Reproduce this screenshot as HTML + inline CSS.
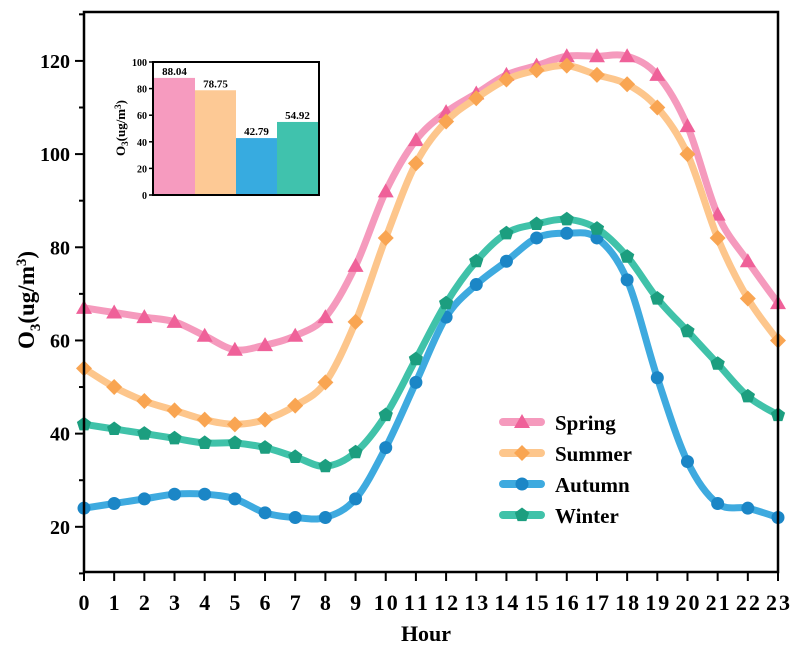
<!DOCTYPE html>
<html><head><meta charset="utf-8"><style>
body{margin:0;background:#fff}
svg{display:block;font-family:"Liberation Serif",serif;font-weight:bold}
</style></head><body>
<svg id="c" width="794" height="650"></svg>
<script>
const hours=[0,1,2,3,4,5,6,7,8,9,10,11,12,13,14,15,16,17,18,19,20,21,22,23];
const spring=[67,66,65,64,61,58,59,61,65,76,92,103,109,113,117,119,121,121,121,117,106,87,77,68];
const summer=[54,50,47,45,43,42,43,46,51,64,82,98,107,112,116,118,119,117,115,110,100,82,69,60];
const autumn=[24,25,26,27,27,26,23,22,22,26,37,51,65,72,77,82,83,82,73,52,34,25,24,22];
const winter=[42,41,40,39,38,38,37,35,33,36,44,56,68,77,83,85,86,84,78,69,62,55,48,44];
const yTicks=[20,40,60,80,100,120];
const seasons=["Spring","Summer","Autumn","Winter"];
const means=[88.04,78.75,42.79,54.92];
const insetTicks=[0,20,40,60,80,100];

const NS="http://www.w3.org/2000/svg";
const svg=document.getElementById('c');
function el(t,a,p){const e=document.createElementNS(NS,t);for(const k in a)e.setAttribute(k,a[k]);(p||svg).appendChild(e);return e;}
const X0=84,X1=778,YT=12,YB=572,VMIN=10.3,VMAX=130.5;
const xs=h=>X0+(X1-X0)*h/23;
const ys=v=>YB-(YB-YT)*(v-VMIN)/(VMAX-VMIN);

const styles=[
 {data:spring,line:"#f59abd",mk:"#ef6199",shape:"tri"},
 {data:summer,line:"#fdc68c",mk:"#f9a552",shape:"dia"},
 {data:autumn,line:"#3eaadf",mk:"#1b86c6",shape:"cir"},
 {data:winter,line:"#40c2a9",mk:"#1c9e7f",shape:"pent"}];

function marker(shape,x,y,c,g){
 let m;
 if(shape==="tri")m=el('polygon',{points:`${x},${y-8} ${x-8},${y+6} ${x+8},${y+6}`,fill:c},g);
 else if(shape==="dia")m=el('polygon',{points:`${x},${y-8} ${x+8},${y} ${x},${y+8} ${x-8},${y}`,fill:c},g);
 else if(shape==="cir")m=el('circle',{cx:x,cy:y,r:6.5,fill:c},g);
 else{let p=[];for(let i=0;i<5;i++){const a=-Math.PI/2+i*2*Math.PI/5;p.push((x+7.5*Math.cos(a)).toFixed(1)+","+(y+7.5*Math.sin(a)).toFixed(1));}m=el('polygon',{points:p.join(" "),fill:c},g);}
 return m;
}
function spline(pts){
 let d=`M${pts[0][0]},${pts[0][1]}`;
 for(let i=0;i<pts.length-1;i++){
  const p0=pts[Math.max(0,i-1)],p1=pts[i],p2=pts[i+1],p3=pts[Math.min(pts.length-1,i+2)];
  const c1=[p1[0]+(p2[0]-p0[0])/6,p1[1]+(p2[1]-p0[1])/6];
  const c2=[p2[0]-(p3[0]-p1[0])/6,p2[1]-(p3[1]-p1[1])/6];
  d+=` C${c1[0]},${c1[1]} ${c2[0]},${c2[1]} ${p2[0]},${p2[1]}`;
 }
 return d;
}
styles.forEach((s,i)=>{
 const g=el('g',{});
 
 
 const pts=hours.map((h,j)=>[xs(h),ys(s.data[j])]);
 el('path',{d:spline(pts),fill:'none',stroke:s.line,'stroke-width':7,'stroke-linecap':'round'},g);
 pts.forEach(p=>{const m=marker(s.shape,p[0],p[1],s.mk,g);
  
  });
});
const fr=el('rect',{x:X0,y:YT,width:X1-X0,height:YB-YT,fill:'none',stroke:'#000','stroke-width':2.5});


hours.forEach(h=>{
 el('line',{x1:xs(h),x2:xs(h),y1:YB,y2:YB+9,stroke:'#000','stroke-width':2});
 const t=el('text',{x:xs(h),y:YB+38,'text-anchor':'middle','font-size':22,'textLength':h>9?24:'' });
 if(h<=9)t.removeAttribute('textLength');
 t.textContent=h;
 
 
});
yTicks.forEach(v=>{
 el('line',{x1:X0-9,x2:X0,y1:ys(v),y2:ys(v),stroke:'#000','stroke-width':2});
 const t=el('text',{x:X0-14,y:ys(v)+7,'text-anchor':'end','font-size':20});t.textContent=v;
 
 
});
for(let v=10;v<=130;v+=10){if(v%20)el('line',{x1:X0-5,x2:X0,y1:ys(v),y2:ys(v),stroke:'#000','stroke-width':2});}
let xt=el('text',{x:426,y:641,'text-anchor':'middle','font-size':22});xt.textContent='Hour';


let yt=el('text',{transform:'translate(34,300) rotate(-90)','text-anchor':'middle','font-size':23});
yt.innerHTML='O<tspan font-size="15" dy="6">3</tspan><tspan dy="-6">(ug/m</tspan><tspan font-size="15" dy="-8">3</tspan><tspan dy="8">)</tspan>';


styles.forEach((s,i)=>{
 const y=422+i*31;
 const g=el('g',{});
 
 
 el('line',{x1:503,x2:541,y1:y,y2:y,stroke:s.line,'stroke-width':8,'stroke-linecap':'round'},g);
 marker(s.shape,522,y,s.mk,g);
 const t=el('text',{x:555,y:y+8,'font-size':21},g);t.textContent=seasons[i];
});
const IX0=153,IX1=319,IYT=62,IYB=195;
const iy=v=>IYB-(IYB-IYT)*v/100;
const bw=(IX1-IX0-2)/4;
const barCols=["#f69bbf","#fdc995","#37abe0","#40c2ad"];
means.forEach((m,i)=>{
 const x=IX0+1+i*bw;
 const r=el('rect',{x:x,y:iy(m),width:bw,height:IYB-iy(m),fill:barCols[i]});
 
 
 const t=el('text',{x:x+bw/2,y:iy(m)-3,'text-anchor':'middle','font-size':11});t.textContent=m.toFixed(2);
 
 
});
const ifr=el('rect',{x:IX0,y:IYT,width:IX1-IX0,height:IYB-IYT,fill:'none',stroke:'#000','stroke-width':2});


insetTicks.forEach(v=>{
 el('line',{x1:IX0-4,x2:IX0,y1:iy(v),y2:iy(v),stroke:'#000','stroke-width':1.5});
 const t=el('text',{x:IX0-6,y:iy(v)+4,'text-anchor':'end','font-size':10});t.textContent=v;
 
 
});
let it=el('text',{transform:'translate(125,128) rotate(-90)','text-anchor':'middle','font-size':13});
it.innerHTML='O<tspan font-size="9" dy="3">3</tspan><tspan dy="-3">(ug/m</tspan><tspan font-size="9" dy="-4">3</tspan><tspan dy="4">)</tspan>';


</script>
</body></html>
